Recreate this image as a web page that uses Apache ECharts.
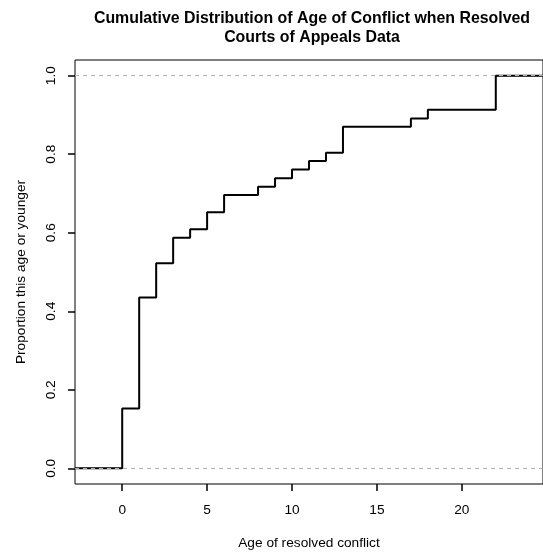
<!DOCTYPE html>
<html>
<head>
<meta charset="utf-8">
<title>Cumulative Distribution of Age of Conflict when Resolved</title>
<script src="https://cdn.jsdelivr.net/npm/echarts@6/dist/echarts.min.js"></script>
<style>
  html, body { margin: 0; padding: 0; background: #fff; }
  #chart { width: 543px; height: 557px; }
</style>
</head>
<body>
<div id="chart"></div>
<script>
// Ages (years) at which the empirical CDF jumps, and the cumulative proportion reached there
const ages = [0, 1, 2, 3, 4, 5, 6, 8, 9, 10, 11, 12, 13, 17, 18, 22];
const proportions = [0.152, 0.435, 0.522, 0.587, 0.609, 0.652, 0.696, 0.717, 0.739, 0.761, 0.783, 0.804, 0.870, 0.891, 0.913, 1.0];

const xTicks = [0, 5, 10, 15, 20];
const yTicks = [0, 0.2, 0.4, 0.6, 0.8, 1.0];
const referenceLevels = [0, 1];

const xMin = -2.78, xMax = 24.78;
const yMin = -0.04, yMax = 1.04;

// Step path: flat at 0 from the left edge, jump at each age, flat at 1 to the right edge
const stepData = [[xMin, 0]];
ages.forEach((a, i) => stepData.push([a, proportions[i]]));
stepData.push([xMax, proportions[proportions.length - 1]]);

const font = "'Liberation Sans', Arial, Helvetica, sans-serif";
const labelSize = 13.7;

const chart = echarts.init(document.getElementById('chart'), null, { renderer: 'canvas' });
chart.setOption({
  animation: false,
  backgroundColor: '#ffffff',
  title: {
    text: 'Cumulative Distribution of Age of Conflict when Resolved\nCourts of Appeals Data',
    left: 307,
    top: 4,
    textAlign: 'center',
    textStyle: { fontFamily: font, fontSize: 15.9, fontWeight: 'bold', color: '#000', lineHeight: 19 }
  },
  grid: {
    left: 75, right: -6, top: 60, bottom: 73,
    show: true, borderColor: '#000', borderWidth: 1, backgroundColor: 'transparent'
  },
  xAxis: {
    type: 'value',
    min: xMin, max: xMax,
    name: 'Age of resolved conflict',
    nameLocation: 'middle',
    nameGap: 52,
    nameTextStyle: { fontFamily: font, fontSize: labelSize, color: '#000' },
    axisLine: { show: false, onZero: false },
    splitLine: { show: false },
    axisTick: { show: true, length: 7, customValues: xTicks, lineStyle: { color: '#000', width: 1.5 } },
    axisLabel: {
      customValues: xTicks, margin: 19,
      fontFamily: font, fontSize: labelSize, color: '#000'
    }
  },
  yAxis: {
    type: 'value',
    min: yMin, max: yMax,
    name: 'Proportion this age or younger',
    nameLocation: 'middle',
    nameGap: 47,
    nameTextStyle: { fontFamily: font, fontSize: labelSize, color: '#000' },
    axisLine: { show: false, onZero: false },
    splitLine: { show: false },
    axisTick: { show: true, length: 7, customValues: yTicks, lineStyle: { color: '#000', width: 1.5 } },
    axisLabel: {
      customValues: yTicks, rotate: 90, margin: 17,
      fontFamily: font, fontSize: labelSize, color: '#000',
      formatter: v => v.toFixed(1)
    }
  },
  series: [
    {
      type: 'line',
      step: 'end',
      data: stepData,
      symbol: 'none',
      lineStyle: { color: '#000', width: 2 },
      z: 2
    },
    {
      type: 'line',
      data: [],
      z: 3,
      markLine: {
        silent: true,
        symbol: 'none',
        label: { show: false },
        lineStyle: { color: '#b3b3b3', type: [4, 4], width: 1 },
        data: referenceLevels.map(v => ({ yAxis: v }))
      }
    }
  ]
});
</script>
</body>
</html>
